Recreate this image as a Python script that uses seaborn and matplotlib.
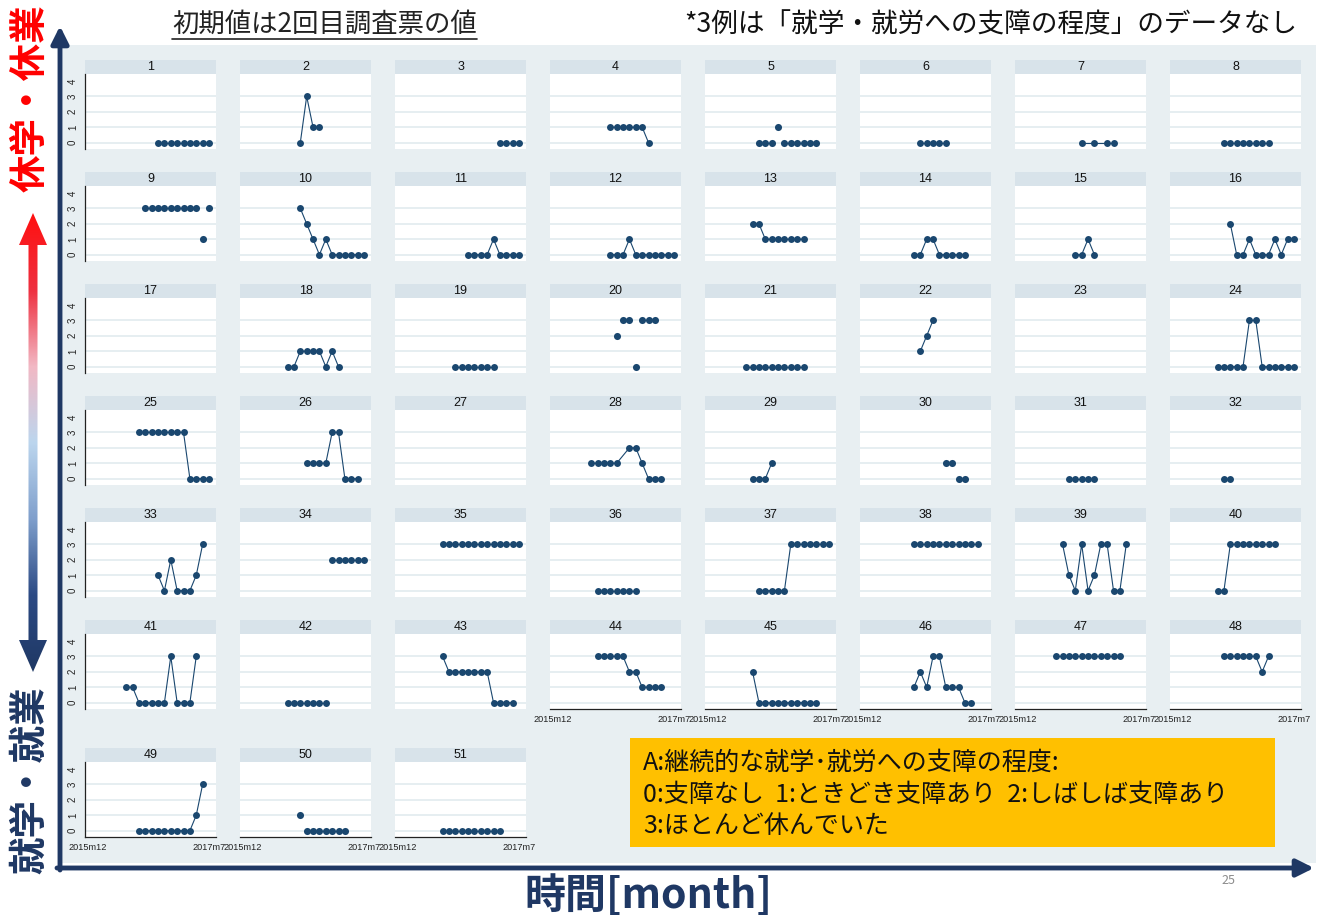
import numpy as np
import pandas as pd
import matplotlib
matplotlib.use("Agg")
import matplotlib.pyplot as plt
import seaborn as sns
from matplotlib.patches import Rectangle, Polygon
from matplotlib.colors import LinearSegmentedColormap

# ---- data: one series per case, monthly index from 2015m12 (=0) ----
panel_ids = list(range(1, 52))
panel_start = [11, 9, 16, 9, 8, 9, 10, 8,
               9, 9, 11, 9, 7, 8, 9, 9,
               0, 7, 9, 10, 6, 9, 0, 7,
               8, 10, 0, 6, 7, 13, 8, 8,
               11, 14, 7, 7, 8, 8, 7, 7,
               6, 7, 7, 7, 7, 8, 6, 8,
               8, 9, 7]
panel_scores = [
    [0] * 9, [0, 3, 1, 1], [0, 0, 0, 0], [1, 1, 1, 1, 1, 1, 0],
    [0, 0, 0, 1, 0, 0, 0, 0, 0, 0], [0] * 5, [0, None, 0, None, 0, 0], [0] * 8,
    [3] * 9 + [1, 3], [3, 2, 1, 0, 1, 0, 0, 0, 0, 0, 0], [0, 0, 0, 0, 1, 0, 0, 0, 0],
    [0, 0, 0, 1, 0, 0, 0, 0, 0, 0, 0],
    [2, 2, 1, 1, 1, 1, 1, 1, 1], [0, 0, 1, 1, 0, 0, 0, 0, 0], [0, 0, 1, 0],
    [2, 0, 0, 1, 0, 0, 0, 1, 0, 1, 1],
    [], [0, 0, 1, 1, 1, 1, 0, 1, 0], [0] * 7, [2, 3, 3, 0, 3, 3, 3],
    [0] * 10, [1, 2, 3], [], [0, 0, 0, 0, 0, 3, 3, 0, 0, 0, 0, 0, 0],
    [3] * 8 + [0] * 4, [1, 1, 1, 1, 3, 3, 0, 0, 0], [],
    [1, 1, 1, 1, 1, None, 2, 2, 1, 0, 0, 0],
    [0, 0, 0, 1], [1, 1, 0, 0], [0] * 5, [0, 0],
    [1, 0, 2, 0, 0, 0, 1, 3], [2] * 6, [3] * 13, [0] * 7,
    [0] * 5 + [3] * 7, [3] * 11, [3, 1, 0, 3, 0, 1, 3, 3, 0, 0, 3], [0, 0] + [3] * 8,
    [1, 1, 0, 0, 0, 0, 0, 3, 0, 0, 0, 3], [0] * 7, [3] + [2] * 7 + [0] * 4,
    [3] * 5 + [2, 2] + [1] * 4,
    [2] + [0] * 10, [1, 2, 1, 3, 3, 1, 1, 1, 0, 0], [3] * 11, [3] * 6 + [2, 3],
    [0] * 9 + [1, 3], [1] + [0] * 7, [0] * 10,
]
unconnected = [5, 9, 20, 30, 50]
x_tick_labels = ["2015m12", "2017m7"]
legend_lines = ["A:継続的な就学･就労への支障の程度:",
                "0:支障なし  1:ときどき支障あり  2:しばしば支障あり",
                "3:ほとんど休んでいた"]

rows = []
for pid, start, vals in zip(panel_ids, panel_start, panel_scores):
    for k, v in enumerate(vals):
        if v is not None:
            rows.append({"id": pid, "month": start + k, "score": v})
df = pd.DataFrame(rows)

# ---- style ----
W, H = 1321, 919
MARK = "#1a476f"
DARK = "#1f3864"
STRIP = "#d8e3ea"
BACK = "#e8eff2"
GRID = "#e6eef1"

sns.set_style("white")
plt.rcParams['font.family'] = ['Noto Sans CJK JP', 'DejaVu Sans']

fig = plt.figure(figsize=(W / 100, H / 100), dpi=100)
bg = fig.add_axes([0, 0, 1, 1], zorder=0)
bg.axis('off')


def px_axes(x, y, w, h):
    return fig.add_axes([x / W, 1 - (y + h) / H, w / W, h / H], zorder=2)


bg.add_patch(Rectangle((62, 45), 1254, 818, color=BACK, lw=0))

row_tops = [60, 172, 284, 396, 508, 620, 748]
bottom_ids = [44, 45, 46, 47, 48, 49, 50, 51]

for i, pid in enumerate(panel_ids):
    r, c = divmod(i, 8)
    left = 85 + 155 * c
    top = row_tops[r]
    bg.add_patch(Rectangle((left, top), 131, 14, color=STRIP, lw=0))
    bg.text(left + 65.5, top + 7.5, str(pid), ha='center', va='center',
            fontsize=9, color='#111111', family='Liberation Sans')

    ax = px_axes(left, top + 14, 131, 75)
    ax.set_facecolor('white')
    for g in range(4):
        ax.axhline(g, color=GRID, lw=1.4, zorder=0)

    d = df[df.id == pid]
    if len(d):
        if pid in unconnected:
            sns.scatterplot(data=d, x='month', y='score', ax=ax, color=MARK,
                            s=26, linewidth=0, zorder=3)
        else:
            sns.lineplot(data=d, x='month', y='score', ax=ax, color=MARK,
                         lw=0.8, marker='o', markersize=5.0,
                         markeredgewidth=0, markeredgecolor=MARK,
                         estimator=None, zorder=3)

    ax.set_xlim(-0.47, 20.1)
    ax.set_ylim(-0.41, 4.45)
    ax.set_xlabel('')
    ax.set_ylabel('')
    for s in ax.spines.values():
        s.set_visible(False)

    if c == 0:
        ax.spines['left'].set_visible(True)
        ax.spines['left'].set_color('#222222')
        ax.spines['left'].set_linewidth(0.9)
        ax.set_yticks(range(5))
        ax.set_yticklabels([str(v) for v in range(5)], rotation=90,
                           va='center', fontsize=7, family='Liberation Sans')
        ax.tick_params(axis='y', length=3, width=0.8, pad=2, colors='#222222')
    else:
        ax.set_yticks([])

    if pid in bottom_ids:
        ax.spines['bottom'].set_visible(True)
        ax.spines['bottom'].set_color('#222222')
        ax.spines['bottom'].set_linewidth(0.9)
        ax.set_xticks([0, 19])
        ax.set_xticklabels(x_tick_labels, fontsize=6.6, family='Liberation Sans')
        ax.tick_params(axis='x', length=3, width=0.8, pad=1.5, colors='#222222')
    else:
        ax.set_xticks([])

# ---- gradient double arrow on the left ----
cx, sh, hh = 33, 4.5, 14
t_tip, t_base, b_base, b_tip = 213, 245, 640, 672
verts = [(cx, t_tip), (cx + hh, t_base), (cx + sh, t_base), (cx + sh, b_base),
         (cx + hh, b_base), (cx, b_tip), (cx - hh, b_base), (cx - sh, b_base),
         (cx - sh, t_base), (cx - hh, t_base)]
poly = Polygon(verts, closed=True, facecolor='none', edgecolor='none')
bg.add_patch(poly)
cmap = LinearSegmentedColormap.from_list(
    'updown', ['#ff1010', '#ee3040', '#f2b8c4', '#bcd6ee', '#7f9fcc', '#2c4a84', '#1f3864'])
grad = np.linspace(0, 1, 256).reshape(-1, 1)
im = bg.imshow(grad, cmap=cmap, extent=(cx - hh, cx + hh, b_tip, t_tip),
               aspect='auto', origin='upper', zorder=3)
im.set_clip_path(poly)

# ---- axis arrows ----
bg.annotate('', xy=(60, 26), xytext=(60, 870),
            arrowprops=dict(arrowstyle='-|>', color=DARK, lw=3.5,
                            mutation_scale=26, shrinkA=0, shrinkB=0))
bg.annotate('', xy=(1314, 868), xytext=(57, 868),
            arrowprops=dict(arrowstyle='-|>', color=DARK, lw=3.5,
                            mutation_scale=26, shrinkA=0, shrinkB=0))

# ---- texts ----
bg.text(30, 98, '休学・休業', rotation=90, color='#ff0000', fontsize=27,
        fontweight='bold', ha='center', va='center')
bg.text(30, 780, '就学・就業', rotation=90, color=DARK, fontsize=27,
        fontweight='bold', ha='center', va='center')
bg.text(325, 24, '初期値は2回目調査票の値', fontsize=19, ha='center',
        va='center', color='#222222')
bg.plot([172, 477], [39, 39], color='#222222', lw=1.2)
bg.text(1297, 25, '*3例は「就学・就労への支障の程度」のデータなし', fontsize=19.2,
        ha='right', va='center', color='#111111')
bg.text(648, 896, '時間[month]', fontsize=29.5, fontweight='bold', color=DARK,
        ha='center', va='center')
bg.text(1228, 880, '25', fontsize=9, color='#8c8c8c', ha='center', va='center')

bg.add_patch(Rectangle((630, 738), 645, 109, color='#ffc000', lw=0))
for k, line in enumerate(legend_lines):
    bg.text(643, 763 + 31.5 * k, line, fontsize=18, ha='left', va='center',
            color='#111111')

bg.set_xlim(0, W)
bg.set_ylim(H, 0)

fig.savefig('out.png', dpi=100)
